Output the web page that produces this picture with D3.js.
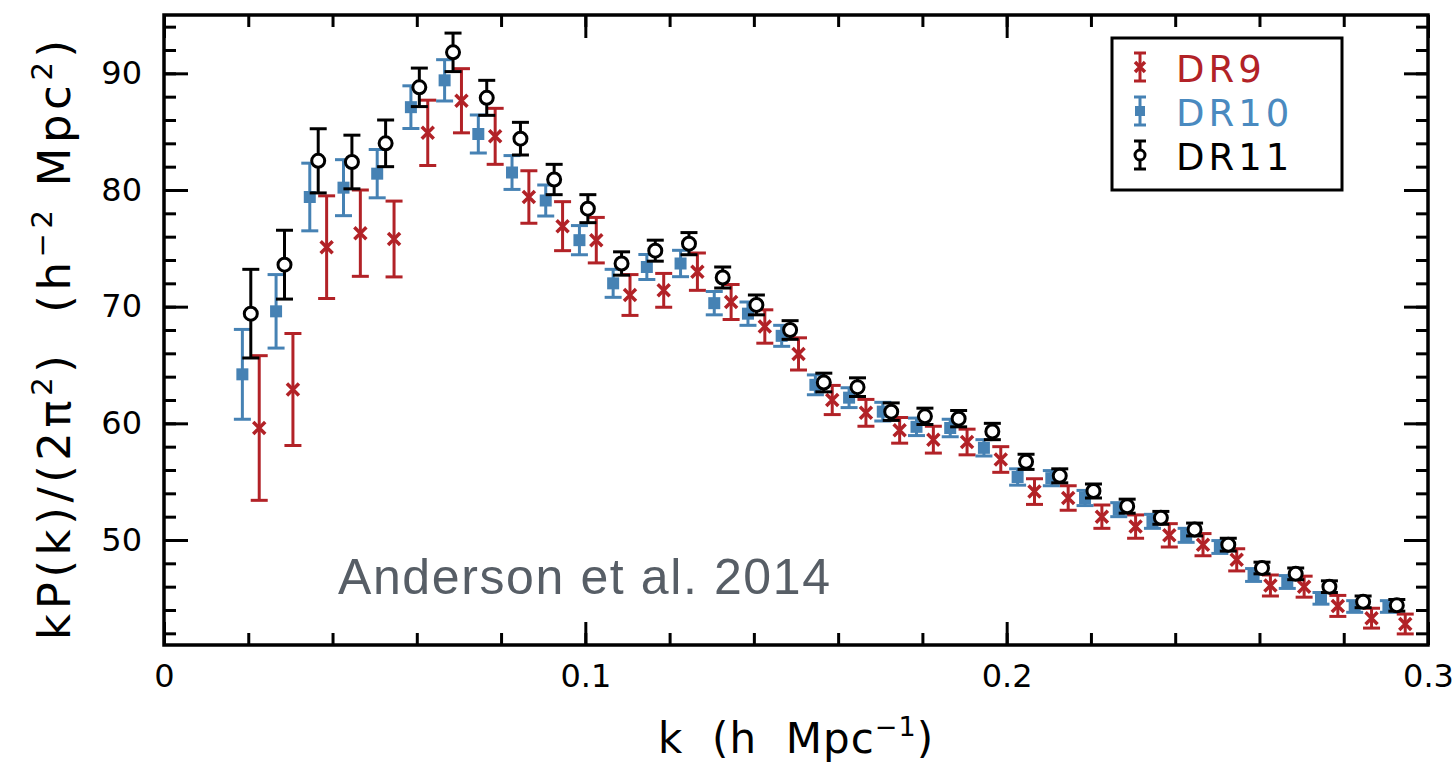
<!DOCTYPE html>
<html>
<head>
<meta charset="utf-8">
<script src="https://cdn.jsdelivr.net/npm/d3@7"></script>
<style>
  body { margin: 0; background: #fff; }
  svg { display: block; }
  .pre { white-space: pre; }
</style>
</head>
<body>
<svg id="chart" width="1456" height="765"></svg>
<script>
// k values (h/Mpc) for each release
const kDR9  = [0.0226,0.0306,0.0386,0.0466,0.0546,0.0626,0.0706,0.0786,0.0866,0.0946,0.1026,0.1106,0.1186,0.1266,0.1346,0.1426,0.1506,0.1586,0.1666,0.1746,0.1826,0.1906,0.1986,0.2066,0.2146,0.2226,0.2306,0.2386,0.2466,0.2546,0.2626,0.2706,0.2786,0.2866,0.2946];
const kDR10 = [0.0186,0.0266,0.0346,0.0426,0.0506,0.0586,0.0666,0.0746,0.0826,0.0906,0.0986,0.1066,0.1146,0.1226,0.1306,0.1386,0.1466,0.1546,0.1626,0.1706,0.1786,0.1866,0.1946,0.2026,0.2106,0.2186,0.2266,0.2346,0.2426,0.2506,0.2586,0.2666,0.2746,0.2826,0.2906];
const kDR11 = [0.0206,0.0286,0.0366,0.0446,0.0526,0.0606,0.0686,0.0766,0.0846,0.0926,0.1006,0.1086,0.1166,0.1246,0.1326,0.1406,0.1486,0.1566,0.1646,0.1726,0.1806,0.1886,0.1966,0.2046,0.2126,0.2206,0.2286,0.2366,0.2446,0.2526,0.2606,0.2686,0.2766,0.2846,0.2926];

// kP(k)/(2pi^2) values
const pDR9  = [59.6,62.9,75.1,76.3,75.8,84.9,87.65,84.6,79.4,76.9,75.7,71.0,71.4,73.0,70.4,68.3,65.95,62.0,60.9,59.4,58.6,58.4,56.9,54.15,53.6,52.0,51.15,50.4,49.6,48.3,46.1,46.0,44.35,43.3,42.8];
const pDR10 = [64.2,69.6,79.4,80.2,81.4,87.1,89.4,84.8,81.5,79.1,75.7,72.0,73.4,73.7,70.3,69.4,67.5,63.3,62.2,61.0,59.7,59.6,57.9,55.4,55.3,53.6,52.6,51.6,50.4,49.4,47.0,46.4,45.0,44.3,44.3];
const pDR11 = [69.4,73.6,82.5,82.4,84.0,88.8,91.8,87.9,84.4,80.9,78.4,73.7,74.8,75.4,72.5,70.15,68.0,63.5,63.1,61.0,60.6,60.4,59.3,56.7,55.5,54.2,52.9,51.9,50.9,49.6,47.6,47.1,46.0,44.7,44.4];

// 1-sigma errors
const eDR9  = [6.2,4.8,4.4,3.7,3.25,2.8,2.75,2.4,2.25,2.1,1.95,1.75,1.45,1.6,1.5,1.43,1.38,1.25,1.15,1.1,1.15,1.1,1.1,1.1,1.05,1.0,1.0,1.0,0.95,0.95,0.9,0.9,0.9,0.85,0.85];
const eDR10 = [3.85,3.15,2.9,2.4,2.07,1.83,1.77,1.63,1.45,1.33,1.25,1.2,1.07,1.13,1.0,1.0,0.9,0.85,0.85,0.8,0.75,0.75,0.7,0.7,0.65,0.65,0.6,0.6,0.6,0.55,0.55,0.55,0.5,0.5,0.5];
const eDR11 = [3.8,2.95,2.75,2.3,2.0,1.65,1.65,1.5,1.4,1.3,1.2,1.0,0.9,0.95,0.9,0.85,0.8,0.8,0.8,0.75,0.7,0.7,0.7,0.65,0.6,0.6,0.6,0.55,0.55,0.55,0.5,0.5,0.5,0.5,0.5];

const seriesNames = ["DR9", "DR10", "DR11"];
const xMajorTicks = [0, 0.1, 0.2, 0.3];
const yMajorTicks = [50, 60, 70, 80, 90];

const RED = "#b22227";
const BLUE = "#4682b4";
const BLACK = "#000";
const FONT = "'DejaVu Sans', sans-serif";

const svg = d3.select("#chart");

const x = d3.scaleLinear().domain([0, 0.3]).range([164, 1428]);
const y = d3.scaleLinear().domain([41, 95]).range([645, 15]);

const series = [
  { name: seriesNames[0], k: kDR9,  p: pDR9,  e: eDR9,  color: RED,   shape: "cross" },
  { name: seriesNames[1], k: kDR10, p: pDR10, e: eDR10, color: BLUE,  shape: "square" },
  { name: seriesNames[2], k: kDR11, p: pDR11, e: eDR11, color: BLACK, shape: "circle" }
];

// ---- axes: ticks drawn inward on all four sides
const xMinor = d3.range(0, 0.3001, 0.02);
const yMinor = d3.range(42, 95, 2);

function styleAxis(g) {
  g.select(".domain").remove();
  g.selectAll(".tick line").attr("stroke", "#000").attr("stroke-width", 3);
  g.selectAll(".tick text").attr("font-family", FONT).attr("font-size", 32).attr("fill", "#000");
}

svg.append("g").attr("transform", `translate(0,${y.range()[0]})`)
  .call(d3.axisBottom(x).tickValues(xMinor).tickSize(-12).tickFormat(""))
  .call(styleAxis);
svg.append("g").attr("transform", `translate(0,${y.range()[0]})`)
  .call(d3.axisBottom(x).tickValues(xMajorTicks).tickSize(-23).tickPadding(19)
    .tickFormat(d => d === 0 ? "0" : d3.format(".1f")(d)))
  .call(styleAxis);
svg.append("g").attr("transform", `translate(0,${y.range()[1]})`)
  .call(d3.axisTop(x).tickValues(xMinor).tickSize(-12).tickFormat(""))
  .call(styleAxis);
svg.append("g").attr("transform", `translate(0,${y.range()[1]})`)
  .call(d3.axisTop(x).tickValues(xMajorTicks).tickSize(-23).tickFormat(""))
  .call(styleAxis);

svg.append("g").attr("transform", `translate(${x.range()[0]},0)`)
  .call(d3.axisLeft(y).tickValues(yMinor).tickSize(-12).tickFormat(""))
  .call(styleAxis);
svg.append("g").attr("transform", `translate(${x.range()[0]},0)`)
  .call(d3.axisLeft(y).tickValues(yMajorTicks).tickSize(-24).tickPadding(22).tickFormat(d3.format("d")))
  .call(styleAxis);
svg.append("g").attr("transform", `translate(${x.range()[1]},0)`)
  .call(d3.axisRight(y).tickValues(yMinor).tickSize(-12).tickFormat(""))
  .call(styleAxis);
svg.append("g").attr("transform", `translate(${x.range()[1]},0)`)
  .call(d3.axisRight(y).tickValues(yMajorTicks).tickSize(-24).tickFormat(""))
  .call(styleAxis);

// frame
svg.append("rect")
  .attr("x", x.range()[0]).attr("y", y.range()[1])
  .attr("width", x.range()[1] - x.range()[0])
  .attr("height", y.range()[0] - y.range()[1])
  .attr("fill", "none").attr("stroke", "#000").attr("stroke-width", 3.5);

// ---- markers
function drawMarker(g, shape, color, s) {
  if (shape === "cross") {
    g.append("path")
      .attr("d", `M${-s},${-s}L${s},${s}M${-s},${s}L${s},${-s}`)
      .attr("stroke", color).attr("stroke-width", 3.5).attr("fill", "none");
  } else if (shape === "square") {
    g.append("rect").attr("x", -s).attr("y", -s).attr("width", 2 * s).attr("height", 2 * s)
      .attr("fill", color);
  } else {
    g.append("circle").attr("r", s).attr("fill", "#fff")
      .attr("stroke", color).attr("stroke-width", 3);
  }
}

const plot = svg.append("g");
series.forEach(sr => {
  const pts = sr.k.map((k, i) => ({ k, p: sr.p[i], e: sr.e[i] }));
  const g = plot.append("g").attr("class", sr.name);
  const pt = g.selectAll("g.pt").data(pts).join("g").attr("class", "pt")
    .attr("transform", d => `translate(${x(d.k)},0)`);
  pt.append("line")
    .attr("y1", d => y(d.p - d.e)).attr("y2", d => y(d.p + d.e))
    .attr("stroke", sr.color).attr("stroke-width", 3);
  pt.append("line").attr("x1", -8.5).attr("x2", 8.5)
    .attr("y1", d => y(d.p + d.e)).attr("y2", d => y(d.p + d.e))
    .attr("stroke", sr.color).attr("stroke-width", 3);
  pt.append("line").attr("x1", -8.5).attr("x2", 8.5)
    .attr("y1", d => y(d.p - d.e)).attr("y2", d => y(d.p - d.e))
    .attr("stroke", sr.color).attr("stroke-width", 3);
  pt.each(function(d) {
    const m = d3.select(this).append("g").attr("transform", `translate(0,${y(d.p)})`);
    drawMarker(m, sr.shape, sr.color, sr.shape === "circle" ? 6.5 : 6);
  });
});

// ---- legend
const legend = svg.append("g");
legend.append("rect").attr("x", 1112).attr("y", 38).attr("width", 230).attr("height", 152)
  .attr("fill", "#fff").attr("stroke", "#000").attr("stroke-width", 3);
series.forEach((sr, i) => {
  const cy = 67 + i * 44;
  const lg = legend.append("g").attr("transform", `translate(1140,${cy})`);
  lg.append("line").attr("y1", -14).attr("y2", 14).attr("stroke", sr.color).attr("stroke-width", 3);
  lg.append("line").attr("x1", -6).attr("x2", 6).attr("y1", -14).attr("y2", -14).attr("stroke", sr.color).attr("stroke-width", 3);
  lg.append("line").attr("x1", -6).attr("x2", 6).attr("y1", 14).attr("y2", 14).attr("stroke", sr.color).attr("stroke-width", 3);
  drawMarker(lg, sr.shape, sr.color, 5);
  legend.append("text").attr("x", 1176).attr("y", cy + 15)
    .attr("font-family", FONT).attr("font-size", 37).attr("letter-spacing", 4)
    .attr("fill", sr.color === BLUE ? "#4a8ac0" : sr.color)
    .text(sr.name);
});

// ---- annotation
svg.append("text").attr("x", 338).attr("y", 594)
  .attr("font-family", "'Liberation Sans', Arial, sans-serif").attr("font-size", 50)
  .attr("textLength", 492).attr("lengthAdjust", "spacing")
  .attr("fill", "#575e66").text("Anderson et al. 2014");

// ---- axis titles
const xt = svg.append("text").attr("class", "pre").attr("x", 658).attr("y", 753)
  .attr("font-family", FONT).attr("font-size", 42).attr("fill", "#000");
xt.append("tspan").text("k  (h  Mpc");
xt.append("tspan").attr("font-size", 27).attr("dy", -17).text("−1");
xt.append("tspan").attr("dy", 17).text(")");

const yt = svg.append("text").attr("class", "pre").attr("transform", "translate(70,640) rotate(-90)")
  .attr("font-family", FONT).attr("font-size", 45).attr("fill", "#000");
yt.append("tspan").text("kP(k)/(2π");
yt.append("tspan").attr("font-size", 29).attr("dy", -18).text("2");
yt.append("tspan").attr("dy", 18).text(")  (h");
yt.append("tspan").attr("font-size", 29).attr("dy", -18).text("−2");
yt.append("tspan").attr("dy", 18).text(" Mpc");
yt.append("tspan").attr("font-size", 29).attr("dy", -18).text("2");
yt.append("tspan").attr("dy", 18).text(")");
// stretch titles to the reference's span
[[xt, 275], [yt, 600]].forEach(([t, target]) => {
  const w = t.node().getComputedTextLength();
  const n = t.text().length;
  if (w < target) t.attr("letter-spacing", (target - w) / (n - 1));
});
</script>
</body>
</html>
